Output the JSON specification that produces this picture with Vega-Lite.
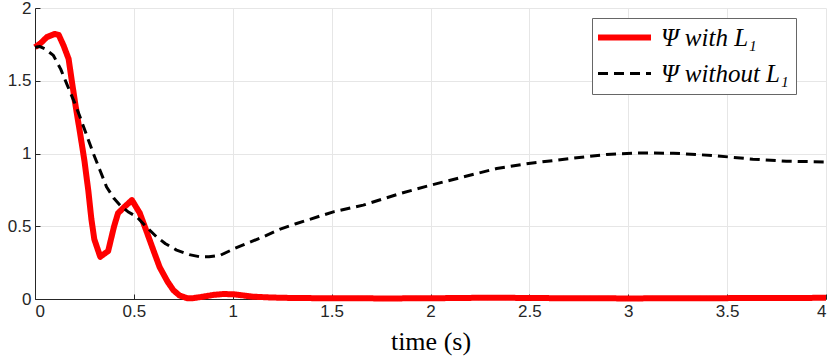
{
  "$schema": "https://vega.github.io/schema/vega-lite/v6.json",
  "width": 791,
  "height": 291,
  "autosize": {"type": "none"},
  "padding": {"left": 35, "top": 8, "right": 4, "bottom": 61},
  "background": "white",
  "data": {
    "values": [
      {"t": 0, "v": 1.73, "s": "Ψ with L₁"},
      {"t": 0.03, "v": 1.76, "s": "Ψ with L₁"},
      {"t": 0.06, "v": 1.8, "s": "Ψ with L₁"},
      {"t": 0.1, "v": 1.822, "s": "Ψ with L₁"},
      {"t": 0.12, "v": 1.815, "s": "Ψ with L₁"},
      {"t": 0.145, "v": 1.74, "s": "Ψ with L₁"},
      {"t": 0.17, "v": 1.65, "s": "Ψ with L₁"},
      {"t": 0.186, "v": 1.5, "s": "Ψ with L₁"},
      {"t": 0.205, "v": 1.33, "s": "Ψ with L₁"},
      {"t": 0.228, "v": 1.14, "s": "Ψ with L₁"},
      {"t": 0.25, "v": 0.95, "s": "Ψ with L₁"},
      {"t": 0.27, "v": 0.74, "s": "Ψ with L₁"},
      {"t": 0.285, "v": 0.55, "s": "Ψ with L₁"},
      {"t": 0.3, "v": 0.41, "s": "Ψ with L₁"},
      {"t": 0.33, "v": 0.29, "s": "Ψ with L₁"},
      {"t": 0.37, "v": 0.33, "s": "Ψ with L₁"},
      {"t": 0.4, "v": 0.5, "s": "Ψ with L₁"},
      {"t": 0.42, "v": 0.59, "s": "Ψ with L₁"},
      {"t": 0.45, "v": 0.63, "s": "Ψ with L₁"},
      {"t": 0.49, "v": 0.68, "s": "Ψ with L₁"},
      {"t": 0.53, "v": 0.59, "s": "Ψ with L₁"},
      {"t": 0.56, "v": 0.48, "s": "Ψ with L₁"},
      {"t": 0.6, "v": 0.33, "s": "Ψ with L₁"},
      {"t": 0.63, "v": 0.22, "s": "Ψ with L₁"},
      {"t": 0.67, "v": 0.12, "s": "Ψ with L₁"},
      {"t": 0.7, "v": 0.06, "s": "Ψ with L₁"},
      {"t": 0.73, "v": 0.025, "s": "Ψ with L₁"},
      {"t": 0.77, "v": 0.005, "s": "Ψ with L₁"},
      {"t": 0.8, "v": 0.006, "s": "Ψ with L₁"},
      {"t": 0.85, "v": 0.016, "s": "Ψ with L₁"},
      {"t": 0.9, "v": 0.028, "s": "Ψ with L₁"},
      {"t": 0.95, "v": 0.034, "s": "Ψ with L₁"},
      {"t": 1.0, "v": 0.033, "s": "Ψ with L₁"},
      {"t": 1.05, "v": 0.025, "s": "Ψ with L₁"},
      {"t": 1.1, "v": 0.016, "s": "Ψ with L₁"},
      {"t": 1.2, "v": 0.01, "s": "Ψ with L₁"},
      {"t": 1.3, "v": 0.007, "s": "Ψ with L₁"},
      {"t": 1.5, "v": 0.005, "s": "Ψ with L₁"},
      {"t": 1.8, "v": 0.004, "s": "Ψ with L₁"},
      {"t": 2.0, "v": 0.005, "s": "Ψ with L₁"},
      {"t": 2.3, "v": 0.009, "s": "Ψ with L₁"},
      {"t": 2.6, "v": 0.006, "s": "Ψ with L₁"},
      {"t": 3.0, "v": 0.004, "s": "Ψ with L₁"},
      {"t": 3.5, "v": 0.006, "s": "Ψ with L₁"},
      {"t": 4.0, "v": 0.008, "s": "Ψ with L₁"},
      {"t": 0, "v": 1.73, "s": "Ψ without L₁"},
      {"t": 0.025, "v": 1.735, "s": "Ψ without L₁"},
      {"t": 0.05, "v": 1.72, "s": "Ψ without L₁"},
      {"t": 0.093, "v": 1.674, "s": "Ψ without L₁"},
      {"t": 0.13, "v": 1.58, "s": "Ψ without L₁"},
      {"t": 0.16, "v": 1.48, "s": "Ψ without L₁"},
      {"t": 0.2, "v": 1.35, "s": "Ψ without L₁"},
      {"t": 0.228, "v": 1.25, "s": "Ψ without L₁"},
      {"t": 0.26, "v": 1.13, "s": "Ψ without L₁"},
      {"t": 0.295, "v": 1.0, "s": "Ψ without L₁"},
      {"t": 0.33, "v": 0.88, "s": "Ψ without L₁"},
      {"t": 0.362, "v": 0.77, "s": "Ψ without L₁"},
      {"t": 0.4, "v": 0.69, "s": "Ψ without L₁"},
      {"t": 0.43, "v": 0.645, "s": "Ψ without L₁"},
      {"t": 0.47, "v": 0.6, "s": "Ψ without L₁"},
      {"t": 0.514, "v": 0.565, "s": "Ψ without L₁"},
      {"t": 0.56, "v": 0.5, "s": "Ψ without L₁"},
      {"t": 0.615, "v": 0.427, "s": "Ψ without L₁"},
      {"t": 0.66, "v": 0.38, "s": "Ψ without L₁"},
      {"t": 0.716, "v": 0.336, "s": "Ψ without L₁"},
      {"t": 0.78, "v": 0.305, "s": "Ψ without L₁"},
      {"t": 0.834, "v": 0.29, "s": "Ψ without L₁"},
      {"t": 0.88, "v": 0.29, "s": "Ψ without L₁"},
      {"t": 0.936, "v": 0.3, "s": "Ψ without L₁"},
      {"t": 1.011, "v": 0.348, "s": "Ψ without L₁"},
      {"t": 1.05, "v": 0.37, "s": "Ψ without L₁"},
      {"t": 1.155, "v": 0.428, "s": "Ψ without L₁"},
      {"t": 1.24, "v": 0.48, "s": "Ψ without L₁"},
      {"t": 1.323, "v": 0.519, "s": "Ψ without L₁"},
      {"t": 1.509, "v": 0.599, "s": "Ψ without L₁"},
      {"t": 1.66, "v": 0.645, "s": "Ψ without L₁"},
      {"t": 1.846, "v": 0.725, "s": "Ψ without L₁"},
      {"t": 2.0, "v": 0.782, "s": "Ψ without L₁"},
      {"t": 2.166, "v": 0.839, "s": "Ψ without L₁"},
      {"t": 2.335, "v": 0.897, "s": "Ψ without L₁"},
      {"t": 2.486, "v": 0.93, "s": "Ψ without L₁"},
      {"t": 2.705, "v": 0.965, "s": "Ψ without L₁"},
      {"t": 2.89, "v": 0.993, "s": "Ψ without L₁"},
      {"t": 3.06, "v": 1.004, "s": "Ψ without L₁"},
      {"t": 3.228, "v": 1.002, "s": "Ψ without L₁"},
      {"t": 3.43, "v": 0.986, "s": "Ψ without L₁"},
      {"t": 3.63, "v": 0.961, "s": "Ψ without L₁"},
      {"t": 3.8, "v": 0.947, "s": "Ψ without L₁"},
      {"t": 4.0, "v": 0.942, "s": "Ψ without L₁"}
    ]
  },
  "mark": {"type": "line", "strokeCap": "butt", "strokeJoin": "round"},
  "encoding": {
    "x": {
      "field": "t", "type": "quantitative",
      "scale": {"domain": [0, 4], "nice": false},
      "axis": {"values": [0, 0.5, 1, 1.5, 2, 2.5, 3, 3.5, 4], "title": "time (s)", "format": "~g"}
    },
    "y": {
      "field": "v", "type": "quantitative",
      "scale": {"domain": [0, 2], "nice": false},
      "axis": {"values": [0, 0.5, 1, 1.5, 2], "title": null, "format": "~g"}
    },
    "color": {
      "field": "s", "type": "nominal",
      "scale": {"domain": ["Ψ with L₁", "Ψ without L₁"], "range": ["#ff0000", "#000000"]},
      "legend": {
        "title": null, "orient": "none", "legendX": 557, "legendY": 10,
        "symbolType": "M-3,0H3", "symbolSize": 312, "symbolOffset": 13,
        "labelFont": "Liberation Serif", "labelFontStyle": "italic", "labelFontSize": 25,
        "labelColor": "#000000", "labelLimit": 400,
        "fillColor": "white", "strokeColor": "#666666", "padding": 7,
        "rowPadding": 10, "labelOffset": 24
      }
    },
    "strokeDash": {
      "field": "s", "type": "nominal",
      "scale": {"domain": ["Ψ with L₁", "Ψ without L₁"], "range": [[1, 0], [10, 6]]},
      "legend": null
    },
    "strokeWidth": {
      "field": "s", "type": "nominal",
      "scale": {"domain": ["Ψ with L₁", "Ψ without L₁"], "range": [6, 3]},
      "legend": null
    }
  },
  "config": {
    "view": {"stroke": null},
    "axis": {
      "domainColor": "#262626", "domainWidth": 1,
      "tickColor": "#262626", "tickSize": -5,
      "gridColor": "#e6e6e6", "gridWidth": 1,
      "labelFont": "Liberation Sans", "labelFontSize": 17, "labelColor": "#262626",
      "labelPadding": 9,
      "titleFont": "Liberation Serif", "titleFontSize": 26, "titleFontWeight": "normal", "titleColor": "#000000"
    },
    "axisX": {"titlePadding": 9},
    "legend": {"symbolStrokeColor": null}
  }
}
